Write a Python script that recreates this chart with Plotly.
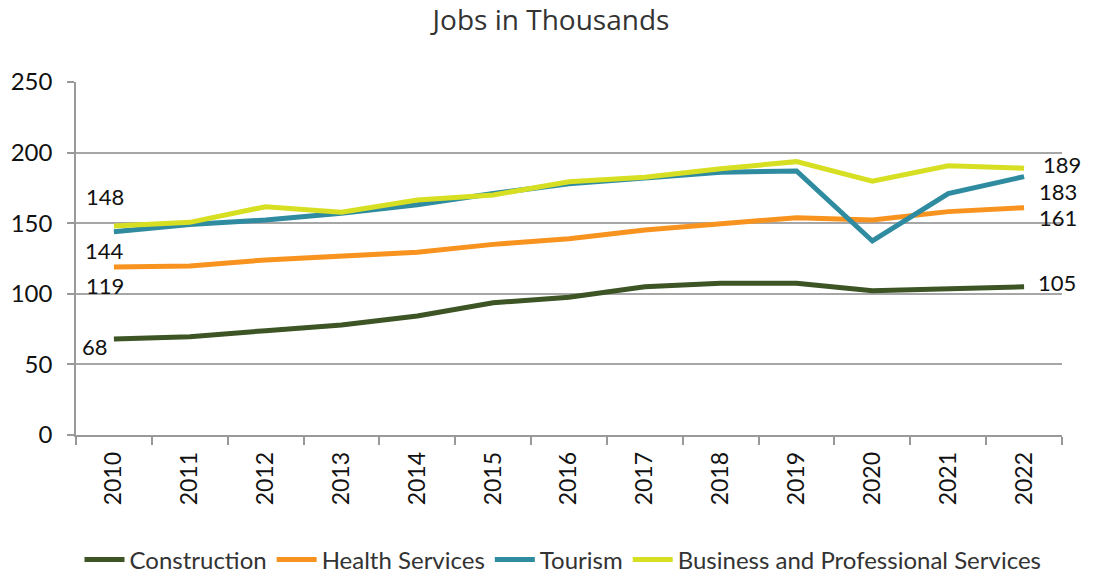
import plotly.graph_objects as go

years = [str(y) for y in range(2010, 2023)]

construction = [68, 69.6, 73.9, 77.9, 84.3, 93.7, 97.5, 105, 107.4, 107.4, 102.2, 104, 105]
health = [119, 119.7, 124, 126.3, 129.4, 135, 139, 145.2, 149.5, 153.9, 152.3, 158.2, 161]
tourism = [144, 149, 152.3, 157, 163, 171, 178, 181.8, 186, 187, 137.4, 171, 183]
business = [148, 150.6, 161.7, 157.7, 166.4, 170, 179.4, 182.5, 188.6, 193.6, 179.7, 190.7, 189]

series = [
    ("Construction", construction, "#3d5425"),
    ("Health Services", health, "#f7931e"),
    ("Tourism", tourism, "#2e8ba0"),
    ("Business and Professional Services", business, "#d7df23"),
]

FONT = "Lato, 'Open Sans', sans-serif"

fig = go.Figure()
for name, vals, color in series:
    fig.add_trace(go.Scatter(
        x=years, y=vals, name=name, mode="lines",
        line=dict(color=color, width=5),
    ))

# value labels at the first and last year: (series, category index, xshift, yshift)
last = len(years) - 1
label_spec = [
    (business, 0, -9, 30),
    (tourism, 0, -9, -19),
    (health, 0, -9, -19),
    (construction, 0, -19, -8),
    (business, last, 38, 4),
    (tourism, last, 34, -15),
    (health, last, 34, -10),
    (construction, last, 33, 4),
]
for vals, i, dx, dy in label_spec:
    fig.add_annotation(
        x=i, y=vals[i], text=f"{vals[i]:.0f}",
        xref="x", yref="y", showarrow=False,
        xshift=dx, yshift=dy,
        font=dict(family=FONT, size=22, color="#111111"),
    )

fig.update_layout(
    width=1115, height=576,
    margin=dict(l=76, r=53, t=82, b=141, autoexpand=False),
    paper_bgcolor="white", plot_bgcolor="white",
    title=dict(text="Jobs in Thousands", x=551 / 1115, xanchor="center",
               xref="container", y=1 - 20 / 576, yanchor="middle",
               font=dict(family="'Open Sans', sans-serif", size=28, color="#333333")),
    showlegend=True,
    legend=dict(orientation="h", x=563 / 1115, xanchor="center", xref="container",
                y=1 - 560 / 576, yanchor="middle", yref="container",
                font=dict(family=FONT, size=24, color="#333333"),
                itemwidth=40, traceorder="normal"),
    xaxis=dict(
        type="category", range=[-0.5, last + 0.5],
        tickangle=-90, tickson="boundaries",
        ticks="outside", ticklen=8, tickcolor="#999999", tickwidth=1.5,
        showline=True, linecolor="#999999", linewidth=1.5,
        showgrid=False, automargin=False, ticklabelstandoff=6,
        tickfont=dict(family=FONT, size=23, color="#111111"),
    ),
    yaxis=dict(
        range=[0, 250], dtick=50, ticks="outside", ticklen=7,
        tickcolor="#999999", tickwidth=1.5,
        showline=True, linecolor="#999999", linewidth=1.5,
        showgrid=True, gridcolor="#a6a6a6", gridwidth=1.5,
        zeroline=False, automargin=False, ticklabelstandoff=10,
        tickfont=dict(family=FONT, size=24, color="#111111"),
    ),
)

fig.write_html("out.html")
